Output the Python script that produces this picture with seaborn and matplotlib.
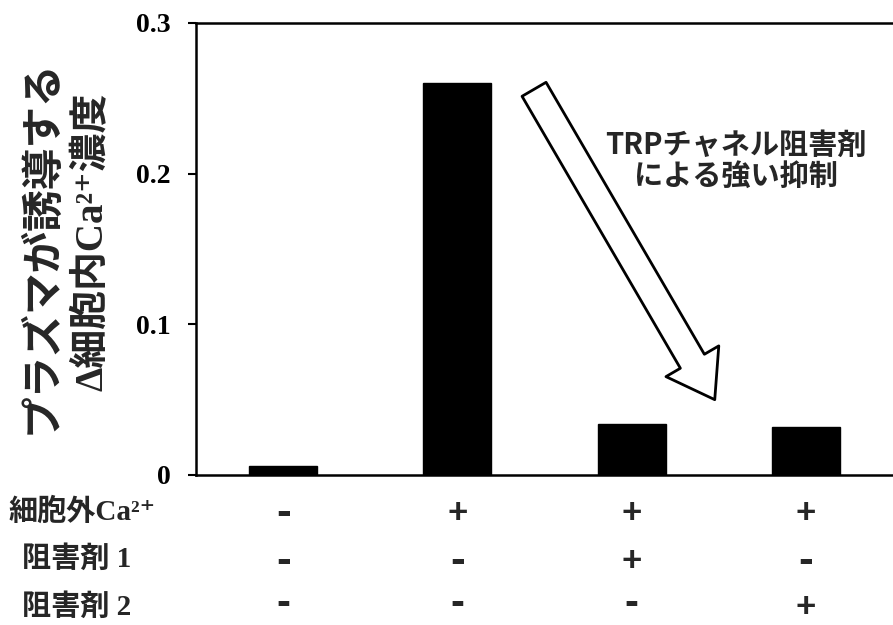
import matplotlib
matplotlib.use("Agg")
import matplotlib.pyplot as plt
import matplotlib.transforms as mtransforms
import seaborn as sns
import pandas as pd

# ---- data ----
conditions = ["A", "B", "C", "D"]
values = [0.006, 0.260, 0.034, 0.032]
ytick_vals = [0, 0.1, 0.2, 0.3]
ytick_labels = ["0", "0.1", "0.2", "0.3"]
row_labels = ["細胞外Ca²⁺", "阻害剤 1", "阻害剤 2"]
row_signs = [
    ["-", "+", "+", "+"],
    ["-", "-", "+", "-"],
    ["-", "-", "-", "+"],
]
ylabel_line1 = "プラズマが誘導する"
ylabel_line2 = "Δ細胞内Ca²⁺濃度"
annot_text = "TRPチャネル阻害剤\nによる強い抑制"

sns.set_style("ticks")
plt.rcParams["font.family"] = ["Noto Sans CJK JP", "DejaVu Sans"]
MIXED = ["Liberation Serif", "Noto Sans CJK JP", "DejaVu Serif", "DejaVu Sans"]

df = pd.DataFrame({"cond": conditions, "val": values})

fig = plt.figure(figsize=(8.93, 6.25), dpi=100)
ax = fig.add_axes([196 / 893, 1 - 475 / 625, 1 - 196 / 893, (475 - 23) / 625])

sns.barplot(data=df, x="cond", y="val", color="black", edgecolor="black",
            width=0.39, saturation=1, ax=ax)

ax.set_xlim(-0.5, 3.5)
ax.set_ylim(0, 0.3)
ax.set_yticks(ytick_vals)
ax.set_yticklabels(ytick_labels, family="Liberation Serif", fontweight="bold", fontsize=20)
ax.tick_params(axis="y", direction="out", length=6, width=1.5, pad=12, colors="black")
ax.set_xticks([])
ax.set_xlabel("")
ax.set_ylabel("")
for side in ["left", "top", "bottom"]:
    ax.spines[side].set_visible(True)
    ax.spines[side].set_linewidth(1.8)
    ax.spines[side].set_color("black")
ax.spines["right"].set_visible(False)

# y label (two lines)
fig.text(42 / 893, 1 - 247 / 625, ylabel_line1, rotation=90, ha="center", va="center",
         fontsize=30, fontweight="bold", family=["Noto Sans CJK JP"])
fig.text(93 / 893, 1 - 242 / 625, ylabel_line2, rotation=90, ha="center", va="center",
         fontsize=28, fontweight="bold", family=MIXED)

# arrow
ax.annotate("", xy=(2.477, 0.050), xytext=(1.44, 0.256), xycoords="data",
            arrowprops=dict(arrowstyle="simple,head_length=32,head_width=44,tail_width=20",
                            mutation_scale=1, fc="white", ec="black", lw=2,
                            shrinkA=0, shrinkB=0))

ax.text(3.0 - (807 - 737) / 175, (475 - 160) / 1507, annot_text,
        ha="center", va="center", fontsize=21, fontweight="bold",
        family=["Noto Sans CJK JP"], linespacing=1.05)

# condition table
blend = mtransforms.blended_transform_factory(ax.transData, fig.transFigure)
label_y = [1 - 512 / 625, 1 - 559 / 625, 1 - 607 / 625]
sign_y = [1 - 514 / 625, 1 - 562 / 625, None]
label_x = [8 / 893, 22 / 893, 22 / 893]
for r, (lab, ly, sy, xx, signs) in enumerate(zip(row_labels, label_y, sign_y, label_x, row_signs)):
    fig.text(xx, ly, lab, ha="left", va="center", fontsize=21, fontweight="bold",
             family=MIXED)
    for i, s in enumerate(signs):
        if sy is None:
            ax.text(i, 0.8 / 625, s, transform=blend, ha="center", va="bottom",
                    fontsize=25 if s == "+" else 30, fontweight="bold",
                    family=["Liberation Sans"], clip_on=False)
        else:
            ax.text(i, sy, s, transform=blend, ha="center", va="center",
                    fontsize=25 if s == "+" else 32, fontweight="bold",
                    family=["Liberation Sans"], clip_on=False)

fig.savefig("out.png", dpi=100)
